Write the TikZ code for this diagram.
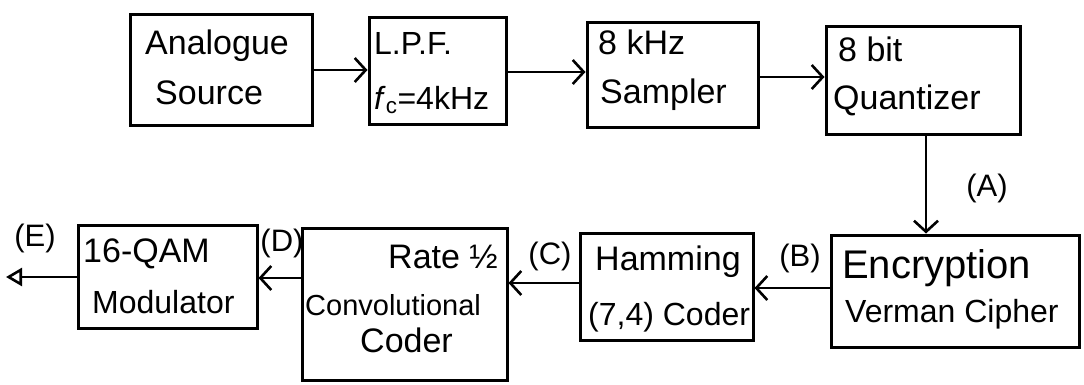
\documentclass[tikz,border=0pt]{standalone}
\usepackage{fontspec}
\setmainfont{Liberation Sans}
\usetikzlibrary{arrows.meta}
\tikzset{
  blk/.style={draw, line width=3pt, rectangle, inner sep=0pt},
  txt/.style={anchor=base west, inner sep=0pt, font=\fontsize{34}{40}\selectfont},
  lbl/.style={inner sep=0pt, font=\fontsize{31}{36}\selectfont},
  arr/.style={line width=2.6pt, -{Straight Barb[length=11pt,width=24pt,line width=2.6pt]}},
}
\begin{document}
\begin{tikzpicture}[x=1pt,y=-1pt]
\useasboundingbox[fill=white] (0,0) rectangle (1084,385);
% boxes
\node[blk, minimum width=182pt, minimum height=111pt] (src) at (221,70.5) {};
\node[blk, minimum width=137pt, minimum height=107pt] (lpf) at (437.5,71.5) {};
\node[blk, minimum width=171pt, minimum height=105pt] (smp) at (672.5,75.5) {};
\node[blk, minimum width=194pt, minimum height=108pt] (qnt) at (923,81) {};
\node[blk, minimum width=248pt, minimum height=112pt] (enc) at (955,291) {};
\node[blk, minimum width=173pt, minimum height=107pt] (ham) at (666.5,286.5) {};
\node[blk, minimum width=205pt, minimum height=152pt] (conv) at (404.5,304) {};
\node[blk, minimum width=179pt, minimum height=103pt] (qam) at (167.5,276.5) {};
% texts
\node[txt] (t1a) at (145,55) {Analogue};
\node[txt] (t1b) at (155,105) {Source};
\node[txt, font=\fontsize{32}{38}\selectfont] (t2a) at (374,55) {L.P.F.};
\node[txt, font=\fontsize{32}{38}\selectfont] (t2b) at (374,110) {\textit{f}\textsubscript{c}=4kHz};
\node[txt] (t3a) at (598,55) {8 kHz};
\node[txt] (t3b) at (600,104) {Sampler};
\node[txt] (t4a) at (838,62) {8 bit};
\node[txt] (t4b) at (833,110) {Quantizer};
\node[txt, font=\fontsize{40}{46}\selectfont] (t5a) at (842,278) {Encryption};
\node[txt, font=\fontsize{32}{38}\selectfont] (t5b) at (845,322) {Verman Cipher};
\node[txt] (t6a) at (595,270) {Hamming};
\node[txt, font=\fontsize{32}{38}\selectfont] (t6b) at (588,325) {(7,4) Coder};
\node[txt] (t7a) at (388,268) {Rate ½};
\node[txt, font=\fontsize{29}{34}\selectfont] (t7b) at (305,315) {Convolutional};
\node[txt] (t7c) at (360,352) {Coder};
\node[txt] (t8a) at (83,262) {16-QAM};
\node[txt, font=\fontsize{32}{38}\selectfont] (t8b) at (92,313) {Modulator};
% labels
\node[lbl] (la) at (987,188) {(A)};
\node[lbl] (lb) at (800,258) {(B)};
\node[lbl] (lc) at (550,256) {(C)};
\node[lbl] (ld) at (282,243) {(D)};
\node[lbl] (le) at (35,238) {(E)};
% connectors
\coordinate (out) at (6,277);
\draw[arr] (src.east |- 0,70) -- (lpf.west |- 0,70);
\draw[arr] (lpf.east |- 0,72) -- (smp.west |- 0,72);
\draw[arr] (smp.east |- 0,77) -- (qnt.west |- 0,77);
\draw[arr] (qnt.south -| 926,0) -- (enc.north -| 926,0);
\draw[arr] (enc.west |- 0,288) -- (ham.east |- 0,288);
\draw[arr] (ham.west |- 0,283) -- (conv.east |- 0,283);
\draw[arr] (conv.west |- 0,278) -- (qam.east |- 0,278);
\draw[line width=2.6pt, -{Triangle[open,length=16pt,width=18pt,line width=2.6pt]}] (qam.west |- 0,277) -- (out);
\end{tikzpicture}
\end{document}
